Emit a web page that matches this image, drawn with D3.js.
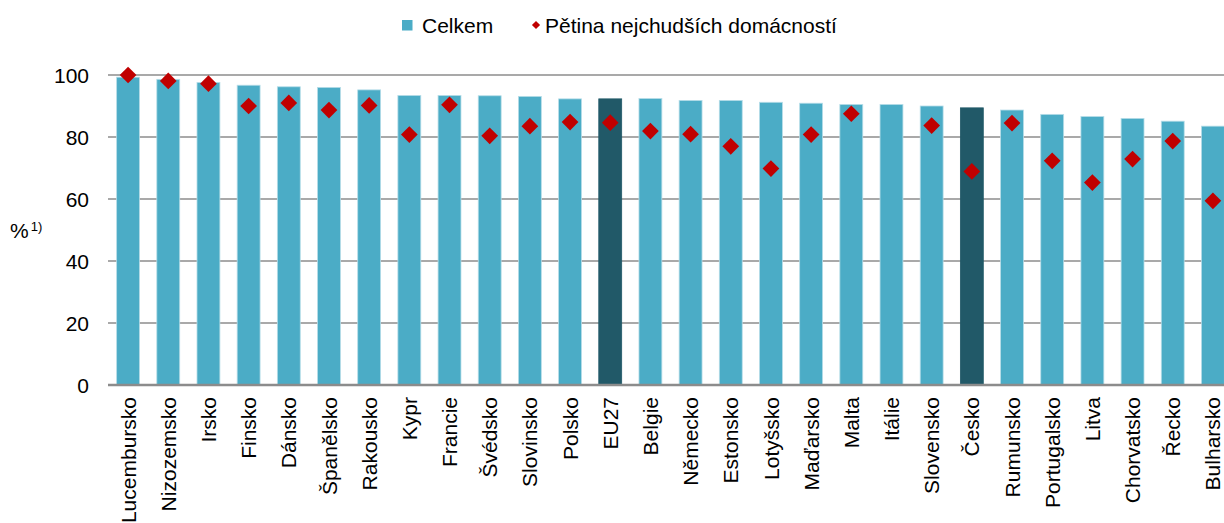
<!DOCTYPE html>
<html>
<head>
<meta charset="utf-8">
<script src="https://cdn.jsdelivr.net/npm/d3@7"></script>
<style>
  body { margin: 0; background: #fff; }
  svg text { font-family: "Liberation Sans", Arial, sans-serif; fill: #000; }
</style>
</head>
<body>
<svg id="chart" width="1224" height="523"></svg>
<script>
const countries = ["Lucembursko", "Nizozemsko", "Irsko", "Finsko", "Dánsko", "Španělsko", "Rakousko", "Kypr",
  "Francie", "Švédsko", "Slovinsko", "Polsko", "EU27", "Belgie", "Německo", "Estonsko", "Lotyšsko", "Maďarsko",
  "Malta", "Itálie", "Slovensko", "Česko", "Rumunsko", "Portugalsko", "Litva", "Chorvatsko", "Řecko", "Bulharsko"];
const total = [99.3, 98.6, 97.6, 96.7, 96.2, 96.0, 95.2, 93.4, 93.4, 93.3, 93.1, 92.3, 92.3, 92.4,
  91.8, 91.8, 91.2, 90.9, 90.5, 90.5, 90.0, 89.4, 88.7, 87.3, 86.6, 86.0, 85.1, 83.5];
// poorest fifth; null where no value shown (Itálie)
const poorest = [100.0, 98.1, 97.2, 90.0, 91.0, 88.7, 90.2, 80.8, 90.4, 80.4, 83.5, 84.8, 84.6, 81.9,
  80.9, 77.0, 69.8, 80.8, 87.5, null, 83.7, 68.9, 84.5, 72.3, 65.3, 72.9, 78.7, 59.4];
const highlighted = ["EU27", "Česko"];
const yTicks = [0, 20, 40, 60, 80, 100];

const svg = d3.select("#chart");
const plotLeft = 108, plotRight = 1233, plotTop = 75, plotBottom = 385;

const x = d3.scaleBand()
  .domain(countries)
  .range([plotLeft, plotRight])
  .paddingInner(0.43)
  .paddingOuter(0.215);
const y = d3.scaleLinear().domain([0, 100]).range([plotBottom, plotTop]);

// gridlines
svg.append("g")
  .selectAll("line")
  .data(yTicks.filter((t) => t > 0))
  .join("line")
  .attr("x1", plotLeft)
  .attr("x2", 1224)
  .attr("y1", (d) => y(d))
  .attr("y2", (d) => y(d))
  .attr("stroke", "#a9a9a9")
  .attr("stroke-width", 2);

// y labels
svg.append("g")
  .selectAll("text")
  .data(yTicks)
  .join("text")
  .attr("x", 89)
  .attr("y", (d) => y(d))
  .attr("dy", "0.36em")
  .attr("text-anchor", "end")
  .attr("font-size", 21)
  .text((d) => d);

const yl = svg.append("text").attr("x", 10).attr("y", 238).attr("font-size", 21);
yl.append("tspan").text("%");
yl.append("tspan").attr("font-size", 13).attr("dy", -7).attr("dx", 2).text("1)");

// bars
const rows = countries.map((c, i) => ({ c: c, t: total[i], p: poorest[i] }));
svg.append("g")
  .selectAll("rect")
  .data(rows)
  .join("rect")
  .attr("x", (d) => x(d.c))
  .attr("width", x.bandwidth())
  .attr("y", (d) => y(d.t))
  .attr("height", (d) => y(0) - y(d.t))
  .attr("fill", (d) => highlighted.includes(d.c) ? "#215968" : "#4bacc6")
  .attr("stroke", (d) => highlighted.includes(d.c) ? "#215968" : "#b6dde8")
  .attr("stroke-width", 0.8);

// zero line
svg.append("line")
  .attr("x1", plotLeft).attr("x2", 1224)
  .attr("y1", y(0)).attr("y2", y(0))
  .attr("stroke", "#8c8c8c")
  .attr("stroke-width", 2.5);

// diamonds
const diamond = d3.symbol().type(d3.symbolSquare).size(140);
svg.append("g")
  .selectAll("path")
  .data(rows.filter((d) => d.p !== null))
  .join("path")
  .attr("d", diamond)
  .attr("transform", (d) => `translate(${x(d.c) + x.bandwidth() / 2},${y(d.p)}) rotate(45)`)
  .attr("fill", "#c00000");

// x labels
svg.append("g")
  .selectAll("text")
  .data(countries)
  .join("text")
  .attr("transform", (d) => `translate(${x(d) + x.bandwidth() / 2},397) rotate(-90)`)
  .attr("dy", "0.36em")
  .attr("text-anchor", "end")
  .attr("font-size", 21)
  .text((d) => d);

// legend
const legend = svg.append("g");
legend.append("rect")
  .attr("x", 402).attr("y", 20).attr("width", 10.5).attr("height", 10.5)
  .attr("fill", "#4bacc6");
legend.append("text").attr("x", 422).attr("y", 33).attr("font-size", 21).text("Celkem");
legend.append("path")
  .attr("d", d3.symbol().type(d3.symbolSquare).size(34))
  .attr("transform", "translate(536,25) rotate(45)")
  .attr("fill", "#c00000");
legend.append("text").attr("x", 545).attr("y", 33).attr("font-size", 21).text("Pětina nejchudších domácností");
</script>
</body>
</html>
